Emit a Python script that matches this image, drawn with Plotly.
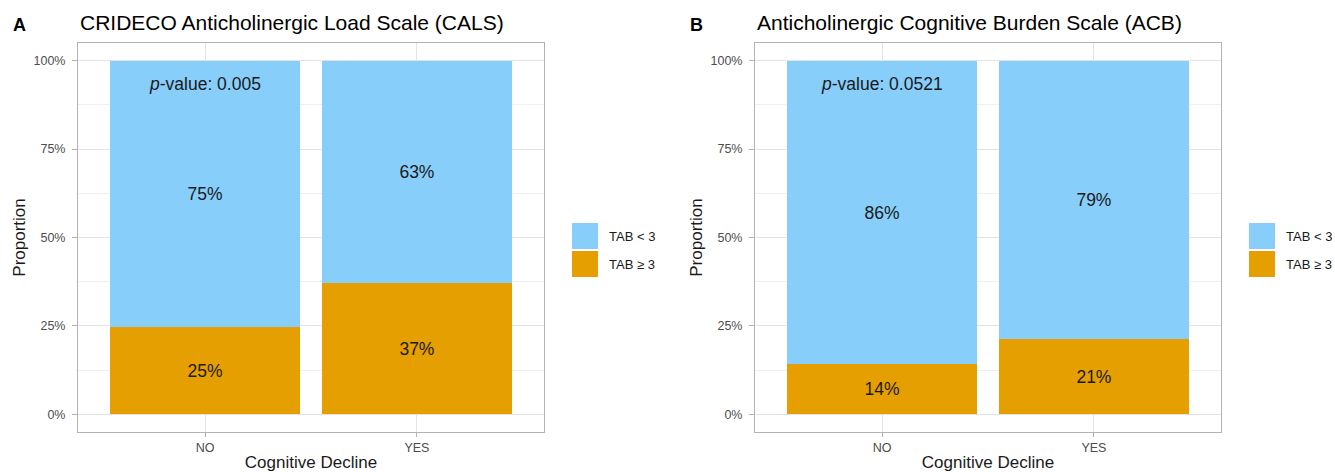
import plotly.graph_objects as go

W, H = 1335, 472

categories = ["NO", "YES"]
groups = ["TAB < 3", "TAB ≥ 3"]
cals_low = [0.754, 0.63]     # TAB < 3
cals_high = [0.246, 0.37]    # TAB ≥ 3
acb_low = [0.859, 0.788]
acb_high = [0.141, 0.212]
cals_labels_low = ["75%", "63%"]
cals_labels_high = ["25%", "37%"]
acb_labels_low = ["86%", "79%"]
acb_labels_high = ["14%", "21%"]
panel_titles = ["CRIDECO Anticholinergic Load Scale (CALS)",
                "Anticholinergic Cognitive Burden Scale (ACB)"]
panel_tags = ["A", "B"]
pvalues = ["0.005", "0.0521"]
y_ticks = [0, 0.25, 0.5, 0.75, 1.0]
y_ticklabels = ["0%", "25%", "50%", "75%", "100%"]

BLUE = "#87CEFA"
ORANGE = "#E69F00"
FONT = "Liberation Sans, Arial, Helvetica, sans-serif"
TXT = "#1A1A1A"

fig = go.Figure()

panels = [
    ("x", "y", cals_low, cals_high, cals_labels_low, cals_labels_high),
    ("x2", "y2", acb_low, acb_high, acb_labels_low, acb_labels_high),
]
for xa, ya, low, high, lab_lo, lab_hi in panels:
    fig.add_trace(go.Bar(x=categories, y=high, name=groups[1], marker_color=ORANGE,
                         marker_line_width=0, width=0.9, text=lab_hi,
                         textposition="inside", insidetextanchor="middle",
                         textfont=dict(size=17.5, color=TXT, family=FONT),
                         xaxis=xa, yaxis=ya, showlegend=False, hoverinfo="skip"))
    fig.add_trace(go.Bar(x=categories, y=low, name=groups[0], marker_color=BLUE,
                         marker_line_width=0, width=0.9, text=lab_lo,
                         textposition="inside", insidetextanchor="middle",
                         textfont=dict(size=17.5, color=TXT, family=FONT),
                         xaxis=xa, yaxis=ya, showlegend=False, hoverinfo="skip"))

xdoms = [[78 / W, 544 / W], [755 / W, 1221 / W]]
ydom = [1 - 432 / H, 1 - 43 / H]

common_x = dict(range=[-0.6, 1.6], showline=True, mirror=True, linecolor="#B3B3B3",
                linewidth=1, showgrid=True, gridcolor="#E3E3E3", gridwidth=1,
                ticks="outside", ticklen=4, tickcolor="#B3B3B3",
                tickfont=dict(size=12.5, color="#4D4D4D", family=FONT),
                title=dict(text="Cognitive Decline", font=dict(size=17, color=TXT, family=FONT),
                           standoff=4),
                zeroline=False, fixedrange=True)
common_y = dict(range=[-0.05, 1.05], showline=True, mirror=True, linecolor="#B3B3B3",
                linewidth=1, showgrid=True, gridcolor="#E3E3E3", gridwidth=1,
                tickvals=y_ticks, ticktext=y_ticklabels,
                ticks="outside", ticklen=5, tickcolor="#B3B3B3", ticklabelstandoff=4,
                tickfont=dict(size=12.5, color="#4D4D4D", family=FONT),
                minor=dict(tickvals=[0.125, 0.375, 0.625, 0.875], showgrid=True,
                           gridcolor="#EFEFEF", gridwidth=0.6, ticks=""),
                title=dict(text="Proportion", font=dict(size=17, color=TXT, family=FONT),
                           standoff=3),
                zeroline=False, domain=ydom, fixedrange=True)

fig.update_layout(
    width=W, height=H, margin=dict(l=0, r=0, t=0, b=0),
    paper_bgcolor="white", plot_bgcolor="white", barmode="stack", bargap=0.1,
    showlegend=False, font=dict(family=FONT),
    xaxis=dict(common_x, domain=xdoms[0], anchor="y"),
    yaxis=dict(common_y, anchor="x"),
    xaxis2=dict(common_x, domain=xdoms[1], anchor="y2"),
    yaxis2=dict(common_y, anchor="x2"),
)

annotations = []
shapes = []
tag_x = [19.6, 696]
legend_x = [572, 1249]
for i in range(2):
    annotations.append(dict(text="<b>%s</b>" % panel_tags[i], x=tag_x[i] / W, y=1 - 25 / H,
                            xref="paper", yref="paper", xanchor="center", yanchor="middle",
                            showarrow=False, font=dict(size=18, color="black", family=FONT)))
    annotations.append(dict(text=panel_titles[i], x=xdoms[i][0], y=1 - 23 / H,
                            xref="paper", yref="paper", xanchor="left", yanchor="middle",
                            showarrow=False, font=dict(size=21, color="black", family=FONT)))
    xa = "x" if i == 0 else "x2"
    ya = "y" if i == 0 else "y2"
    annotations.append(dict(text="<i>p</i>-value: %s" % pvalues[i], x=categories[0], y=0.935,
                            xref=xa, yref=ya, xanchor="center", yanchor="middle",
                            showarrow=False, font=dict(size=17.5, color=TXT, family=FONT)))
    # legend keys
    lx = legend_x[i]
    for j, (col, lab) in enumerate([(BLUE, groups[0]), (ORANGE, groups[1])]):
        y0 = 223 + j * 28
        shapes.append(dict(type="rect", xref="paper", yref="paper",
                           x0=lx / W, x1=(lx + 26) / W, y0=1 - (y0 + 26) / H, y1=1 - y0 / H,
                           fillcolor=col, line=dict(width=0)))
        annotations.append(dict(text=lab, x=(lx + 35) / W, y=1 - (y0 + 13) / H,
                                xref="paper", yref="paper", xanchor="left", yanchor="middle",
                                showarrow=False, font=dict(size=13, color=TXT, family=FONT)))

fig.update_layout(annotations=annotations, shapes=shapes)
fig.write_html("out.html", config={"displayModeBar": False},
               post_script="document.body.style.margin='0';")
